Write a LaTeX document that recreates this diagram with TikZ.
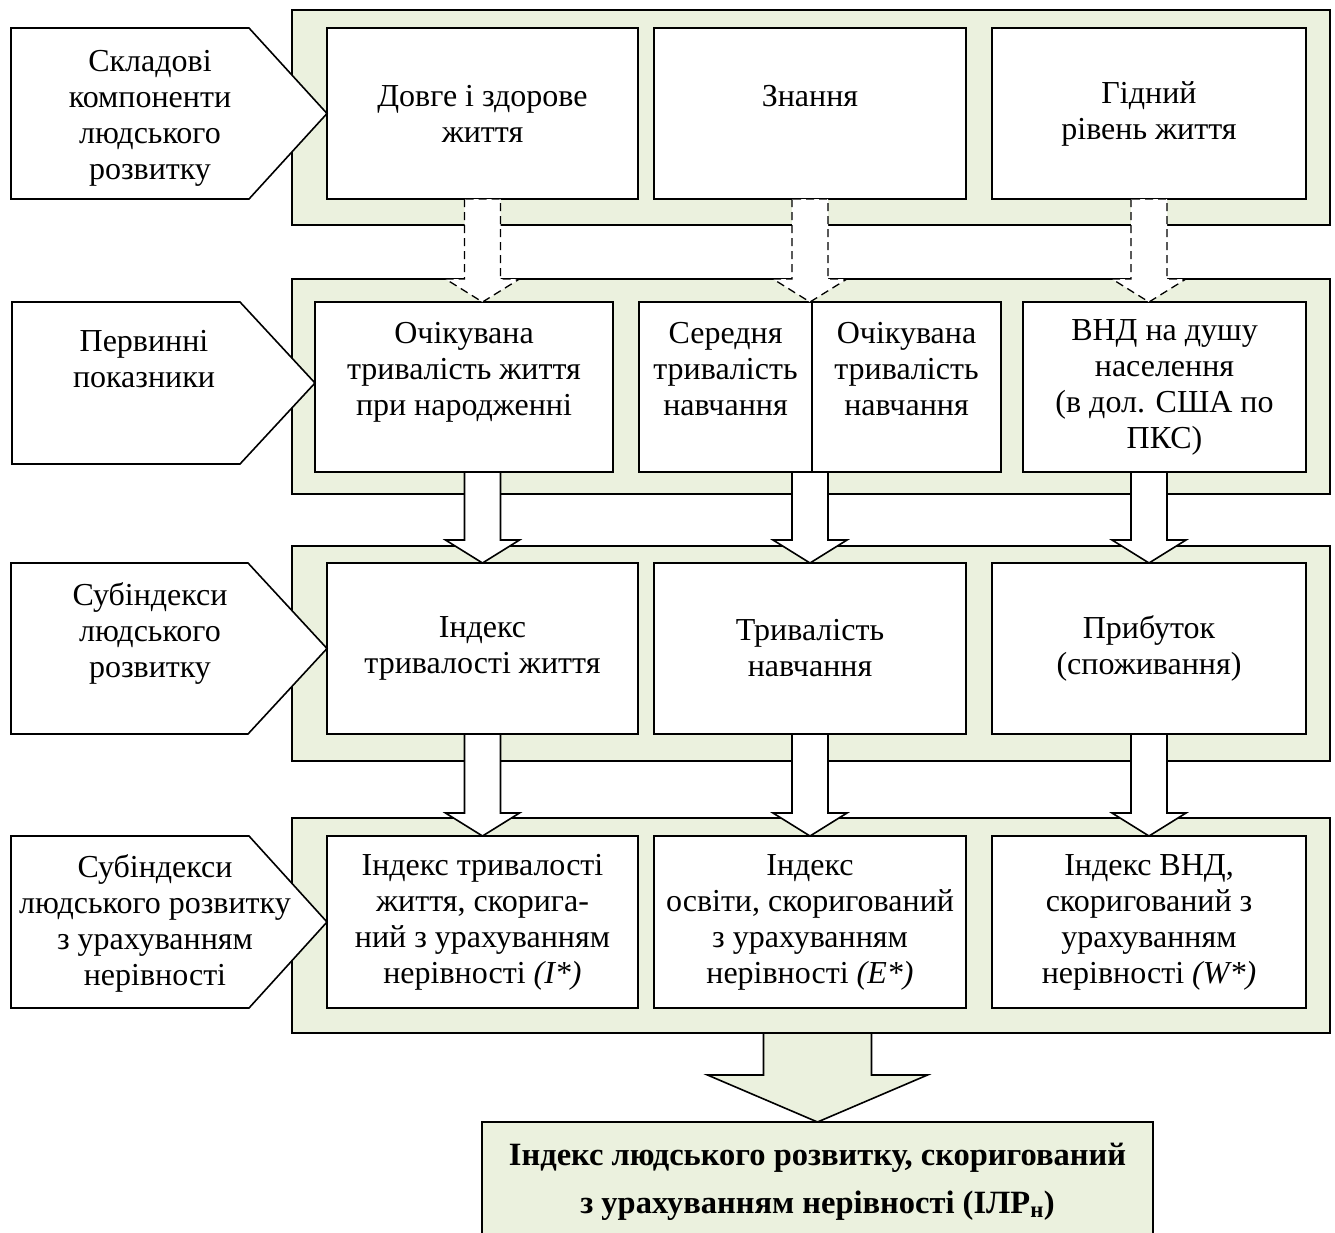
\documentclass[tikz,border=0pt]{standalone}
\usepackage{fontspec}
\setmainfont{Liberation Serif}
\usepackage{tikz}
\usetikzlibrary{
  positioning,
  calc
}
\definecolor{FigGreen}{HTML}{EBF1DE}
\definecolor{FigLine}{HTML}{000000}

% block arrow: closed body from #2 down to the tip #3
\newcommand{\blockarrow}[3][arrowbody]{%
\path[#1] ($(#2)+(-18,0)$) -- ($(#3)+(-18,-23)$) -- ($(#3)+(-37,-23)$) -- (#3)
  -- ($(#3)+(37,-23)$) -- ($(#3)+(18,-23)$) -- ($(#2)+(18,0)$) -- cycle;}

\begin{document}
\begin{tikzpicture}[
x=1pt,
y=-1pt,
font=\fontsize{32}{36}\selectfont,
line width=1.6pt,
panel/.style={
draw=FigLine,
fill=FigGreen,
inner sep=0pt,
outer sep=0pt,
minimum width=1038pt,
minimum height=215pt
},
cell/.style={
draw=FigLine,
fill=white,
inner sep=0pt,
outer sep=0pt,
align=center,
minimum height=171pt
},
tag/.style={
draw=FigLine,
fill=white
},
taglabel/.style={
inner sep=0pt,
align=center
},
arrowbody/.style={
draw=FigLine,
fill=white
},
dashedbody/.style={
arrowbody,
line width=1.3pt,
dash pattern=on 8pt off 5pt
},
bigbody/.style={
draw=FigLine,
fill=FigGreen
}
]
\useasboundingbox (0,0) rectangle (1335,1232);

% Panels
\node[panel] (p1) at (811,117.5) {};
\node[panel, below=54pt of p1] (p2) {};
\node[panel, below=52pt of p2] (p3) {};
\node[panel, below=57pt of p3] (p4) {};

% Row 1 - components
\node[cell, minimum width=311pt] (b11) at (482.5,113.5) {Довге і здорове\\життя};
\node[cell, minimum width=312pt, right=16pt of b11] (b12) {Знання\\\mbox{}};
\node[cell, minimum width=314pt, right=26pt of b12] (b13) {Гідний\\рівень життя};

% Row 2 - primary indicators
\node[cell, minimum width=298pt, minimum height=170pt] (b21) at (464,387) {Очікувана\\тривалість життя\\при народженні\\\mbox{}};
\node[cell, minimum width=173pt, minimum height=170pt, right=26pt of b21] (b22a) {Середня\\тривалість\\навчання\\\mbox{}};
\node[cell, minimum width=189pt, minimum height=170pt, right=0pt of b22a] (b22b) {Очікувана\\тривалість\\навчання\\\mbox{}};
\node[cell, minimum width=283pt, minimum height=170pt, right=22pt of b22b] (b23) {ВНД на душу\\населення\\(в дол. США по\\ПКС)};

% Row 3 - subindices
\node[cell, minimum width=311pt] (b31) at (482.5,648.5) {Індекс\\тривалості життя};
\node[cell, minimum width=312pt, right=16pt of b31] (b32) {Тривалість\\навчання};
\node[cell, minimum width=314pt, right=26pt of b32] (b33) {Прибуток\\(споживання)};

% Row 4 - subindices adjusted for inequality
\node[cell, minimum width=311pt, minimum height=172pt] (b41) at (482.5,922) {Індекс тривалості\\життя, скорига-\\ний з урахуванням\\нерівності \textit{(I*)}};
\node[cell, minimum width=312pt, minimum height=172pt, right=16pt of b41] (b42) {Індекс\\освіти, скоригований\\з урахуванням\\нерівності \textit{(E*)}};
\node[cell, minimum width=314pt, minimum height=172pt, right=26pt of b42] (b43) {Індекс ВНД,\\скоригований з\\урахуванням\\нерівності \textit{(W*)}};

% Result
\node[cell, fill=FigGreen, minimum width=671pt, minimum height=120pt,
font=\fontsize{32.5}{48}\selectfont\bfseries] (fin) at (817.5,1182)
{Індекс людського розвитку, скоригований\\з урахуванням нерівності (ІЛР\textsubscript{н})};

% Row tags
\draw[tag] (11,28) -- (249,28) -- (b11.west) -- (249,199) -- (11,199) -- cycle;
\draw[tag] (12,302) -- (240,302) -- (315,383) -- (240,464) -- (12,464) -- cycle;
\draw[tag] (11,563) -- (248,563) -- (b31.west) -- (248,734) -- (11,734) -- cycle;
\draw[tag] (11,836) -- (249,836) -- (b41.west) -- (249,1008) -- (11,1008) -- cycle;
\node[taglabel] (l1) at (150,118) {Складові\\компоненти\\людського\\розвитку};
\node[taglabel] (l2) at (144,359) {Первинні\\показники};
\node[taglabel] (l3) at (150,633) {Субіндекси\\людського\\розвитку};
\node[taglabel] (l4) at (155,923) {Субіндекси\\людського розвитку\\з урахуванням\\нерівності};

% Arrows between rows
\blockarrow[dashedbody]{b11.south}{b11.south |- b21.north}
\blockarrow[dashedbody]{b12.south}{b12.south |- b22a.north}
\blockarrow[dashedbody]{b13.south}{b13.south |- b23.north}
\blockarrow{b31.north |- b21.south}{b31.north}
\blockarrow{b32.north |- b22a.south}{b32.north}
\blockarrow{b33.north |- b23.south}{b33.north}
\blockarrow{b41.north |- b31.south}{b41.north}
\blockarrow{b42.north |- b32.south}{b42.north}
\blockarrow{b43.north |- b33.south}{b43.north}
\path[bigbody] ($(fin.north |- p4.south)+(-54,0)$) -- ($(fin.north)+(-54,-47)$)
  -- ($(fin.north)+(-110,-47)$) -- (fin.north) -- ($(fin.north)+(110,-47)$)
  -- ($(fin.north)+(54,-47)$) -- ($(fin.north |- p4.south)+(54,0)$) -- cycle;

\end{tikzpicture}
\end{document}
